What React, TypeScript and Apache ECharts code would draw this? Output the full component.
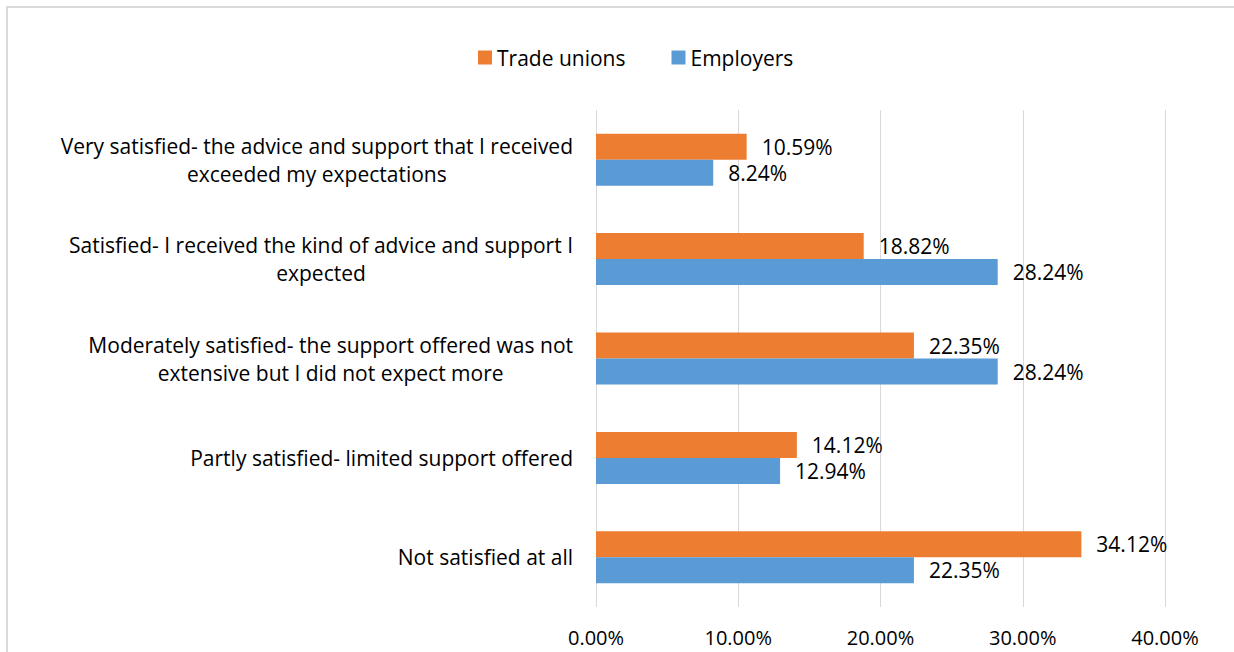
import React, { useEffect, useRef } from "react";
import * as echarts from "echarts";

const categories = [
  "Very satisfied- the advice and support that I received\nexceeded my expectations",
  "Satisfied- I received the kind of advice and support I\nexpected",
  "Moderately satisfied- the support offered was not\nextensive but I did not expect more",
  "Partly satisfied- limited support offered",
  "Not satisfied at all",
];
const seriesNames = ["Trade unions", "Employers"];
const tradeUnions = [10.59, 18.82, 22.35, 14.12, 34.12];
const employers = [8.24, 28.24, 28.24, 12.94, 22.35];
const xMin = 0;
const xMax = 40;
const xInterval = 10;

const FONT = "'Open Sans', Lato, sans-serif";

export default function App() {
  const ref = useRef<HTMLDivElement>(null);
  useEffect(() => {
    if (!ref.current) return;
    const chart = echarts.init(ref.current, undefined, { renderer: "svg" });
    const labelFmt = (p: any) => Number(p.value).toFixed(2) + "%";
    const barLabel = {
      show: true,
      position: "right",
      distance: 15,
      fontFamily: FONT,
      fontSize: 21,
      color: "#000",
      formatter: labelFmt,
    };
    chart.setOption({
      animation: false,
      backgroundColor: "#ffffff",
      textStyle: { fontFamily: FONT },
      graphic: [
        {
          type: "rect",
          shape: { x: 7, y: 7, width: 1300, height: 700 },
          style: { fill: "none", stroke: "#d9d9d9", lineWidth: 2 },
          silent: true,
        },
      ],
      legend: {
        top: 42,
        left: 473,
        itemWidth: 14,
        itemHeight: 14,
        itemGap: 46,
        icon: "rect",
        textStyle: { fontFamily: FONT, fontSize: 21, color: "#000" },
        data: seriesNames,
      },
      grid: { left: 596, right: 69, top: 110, bottom: 45, containLabel: false },
      xAxis: {
        type: "value",
        min: xMin,
        max: xMax,
        interval: xInterval,
        axisLine: { show: false },
        axisTick: { show: false },
        splitLine: { lineStyle: { color: "#d9d9d9", width: 1 } },
        axisLabel: {
          margin: 20,
          fontFamily: FONT,
          fontSize: 20,
          color: "#000",
          formatter: (v: number) => v.toFixed(2) + "%",
        },
      },
      yAxis: {
        type: "category",
        inverse: true,
        data: categories,
        axisLine: { show: false },
        axisTick: { show: false },
        axisLabel: {
          margin: 23,
          align: "right",
          color: "#000",
          formatter: (v: string) =>
            v
              .split("\n")
              .map((l) => `{c|${l}}`)
              .join("\n"),
          rich: {
            c: {
              align: "center",
              fontFamily: FONT,
              fontSize: 21,
              lineHeight: 28,
              color: "#000",
            },
          },
        },
      },
      series: [
        {
          name: seriesNames[0],
          type: "bar",
          data: tradeUnions,
          barWidth: 26,
          barGap: "0%",
          itemStyle: { color: "#ED7D31" },
          label: barLabel,
        },
        {
          name: seriesNames[1],
          type: "bar",
          data: employers,
          barWidth: 26,
          barGap: "0%",
          itemStyle: { color: "#5B9BD5" },
          label: barLabel,
        },
      ],
    });
    return () => chart.dispose();
  }, []);
  return (
    <div
      ref={ref}
      style={{ position: "fixed", left: 0, top: 0, width: 1234, height: 652 }}
    />
  );
}
